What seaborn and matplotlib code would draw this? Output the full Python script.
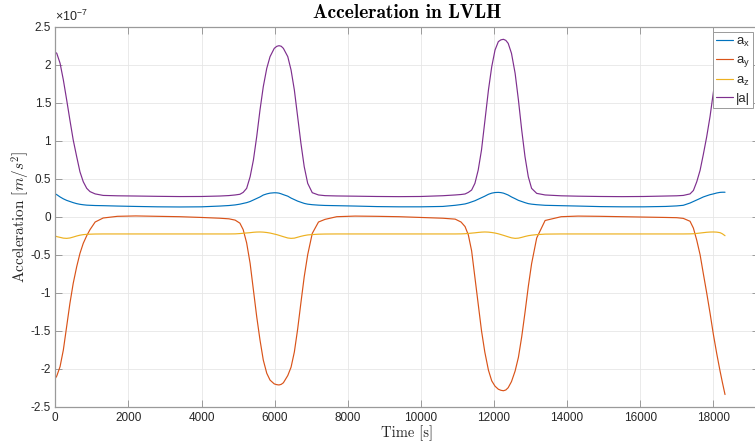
import matplotlib
matplotlib.use("Agg")
import matplotlib.pyplot as plt
import pandas as pd
import seaborn as sns
from matplotlib.ticker import FuncFormatter, FixedLocator

# ---- data (accelerations in units of 1e-7 m/s^2) ----
time_s = [
    0, 40, 130, 220, 310, 400, 490, 585, 675, 765, 860, 950, 1090, 1310, 1700, 2200, 2800, 3400, 4000, 4500,
    4750, 4920, 5050, 5140, 5235, 5330, 5420, 5510, 5600, 5690, 5785, 5875, 5990, 6060, 6120, 6180, 6240, 6360,
    6450, 6540, 6630, 6720, 6810, 6905, 7030, 7200, 7380,
    7700, 8200, 8800, 9400, 10000, 10600,
    10940, 11100, 11210, 11300, 11390, 11480, 11570, 11660, 11750, 11850, 11940, 12030, 12120, 12190, 12260,
    12325, 12390, 12480, 12580, 12670, 12760, 12850, 12940, 13030, 13170, 13400,
    13840, 14300, 14900, 15500, 16100, 16700,
    17000, 17180, 17365, 17457, 17549, 17640, 17729, 17820, 17913, 18004, 18095, 18186, 18250, 18322,
]

a_x = [
    0.300, 0.290, 0.260, 0.235, 0.215, 0.200, 0.185, 0.172, 0.163, 0.157, 0.152, 0.150, 0.147, 0.145, 0.140,
    0.135, 0.130, 0.128, 0.130, 0.140,
    0.147, 0.155, 0.165, 0.175, 0.185, 0.200, 0.220, 0.240, 0.260, 0.285, 0.300, 0.310, 0.315, 0.314, 0.310,
    0.301, 0.290, 0.270, 0.245, 0.225, 0.205, 0.190, 0.175, 0.165, 0.158, 0.152, 0.148,
    0.145, 0.140, 0.133, 0.130, 0.130, 0.135,
    0.150, 0.160, 0.168, 0.180, 0.195, 0.210, 0.230, 0.250, 0.270, 0.295, 0.310, 0.318, 0.320, 0.317, 0.310,
    0.298, 0.285, 0.260, 0.237, 0.215, 0.200, 0.185, 0.172, 0.165, 0.158, 0.150,
    0.145, 0.140, 0.133, 0.130, 0.130, 0.135,
    0.142, 0.150, 0.180, 0.200, 0.220, 0.240, 0.260, 0.275, 0.290, 0.300, 0.312, 0.320, 0.322, 0.322,
]

a_y = [
    -2.127, -2.096, -1.973, -1.754, -1.447, -1.140, -0.877, -0.658, -0.482, -0.350, -0.250, -0.170, -0.070,
    -0.017, 0.005, 0.010, 0.005, 0.000, -0.010, -0.020,
    -0.028, -0.045, -0.085, -0.170, -0.345, -0.614, -0.965, -1.315, -1.622, -1.886, -2.060, -2.150, -2.200,
    -2.210, -2.214, -2.206, -2.185, -2.090, -1.980, -1.780, -1.480, -1.130, -0.790, -0.500, -0.220, -0.070,
    -0.035,
    0.000, 0.008, 0.005, 0.000, -0.010, -0.020,
    -0.032, -0.070, -0.130, -0.240, -0.450, -0.800, -1.150, -1.500, -1.780, -2.020, -2.160, -2.230, -2.270,
    -2.284, -2.290, -2.280, -2.250, -2.170, -2.030, -1.850, -1.580, -1.260, -0.920, -0.620, -0.280, -0.050,
    0.000, 0.008, 0.005, 0.000, -0.005, -0.010,
    -0.013, -0.022, -0.060, -0.150, -0.310, -0.500, -0.750, -1.000, -1.270, -1.550, -1.800, -2.030, -2.180,
    -2.340,
]

a_z = [
    -0.254, -0.262, -0.272, -0.282, -0.285, -0.280, -0.268, -0.254, -0.243, -0.236, -0.232, -0.230, -0.228,
    -0.227, -0.227, -0.227, -0.227, -0.227, -0.227, -0.227,
    -0.227, -0.226, -0.222, -0.218, -0.214, -0.210, -0.205, -0.202, -0.201, -0.203, -0.208, -0.215, -0.228,
    -0.236, -0.245, -0.254, -0.263, -0.280, -0.285, -0.282, -0.270, -0.258, -0.248, -0.240, -0.235, -0.230,
    -0.228,
    -0.227, -0.227, -0.227, -0.227, -0.227, -0.227,
    -0.227, -0.226, -0.224, -0.220, -0.216, -0.212, -0.207, -0.203, -0.201, -0.203, -0.208, -0.215, -0.225,
    -0.235, -0.245, -0.255, -0.265, -0.278, -0.285, -0.282, -0.272, -0.260, -0.250, -0.243, -0.236, -0.229,
    -0.227, -0.227, -0.227, -0.227, -0.227, -0.227,
    -0.227, -0.227, -0.226, -0.224, -0.220, -0.215, -0.210, -0.205, -0.202, -0.201, -0.203, -0.210, -0.225,
    -0.250,
]

a_mag = [
    2.163, 2.150, 2.020, 1.800, 1.540, 1.270, 1.010, 0.790, 0.590, 0.460, 0.373, 0.330, 0.300, 0.280, 0.275,
    0.272, 0.268, 0.265, 0.266, 0.272,
    0.278, 0.286, 0.295, 0.320, 0.373, 0.526, 0.746, 1.053, 1.404, 1.711, 1.952, 2.106, 2.215, 2.242, 2.250,
    2.243, 2.215, 2.106, 1.930, 1.667, 1.316, 0.965, 0.658, 0.439, 0.316, 0.286, 0.277,
    0.273, 0.270, 0.266, 0.264, 0.266, 0.276,
    0.286, 0.292, 0.299, 0.320, 0.351, 0.439, 0.614, 0.878, 1.250, 1.667, 1.974, 2.193, 2.303, 2.327, 2.334,
    2.320, 2.281, 2.150, 1.886, 1.536, 1.140, 0.790, 0.526, 0.373, 0.307, 0.286,
    0.275, 0.270, 0.266, 0.264, 0.266, 0.272,
    0.275, 0.280, 0.300, 0.345, 0.460, 0.610, 0.820, 1.050, 1.320, 1.640, 1.980, 2.200, 2.300, 2.370,
]

components = ["ax", "ay", "az", "amag"]
legend_labels = [r"a$_\mathregular{x}$", r"a$_\mathregular{y}$", r"a$_\mathregular{z}$", "|a|"]
line_colors = ["#0072BD", "#D95319", "#EDB120", "#7E2F8E"]
x_ticks = [0, 2000, 4000, 6000, 8000, 10000, 12000, 14000, 16000, 18000]
y_ticks = [-2.5, -2.0, -1.5, -1.0, -0.5, 0.0, 0.5, 1.0, 1.5, 2.0, 2.5]
unit = 1e-7

# ---- long-form table for seaborn ----
frames = []
for name, vals in zip(components, [a_x, a_y, a_z, a_mag]):
    frames.append(pd.DataFrame({"time": time_s,
                                "acc": [v * unit for v in vals],
                                "component": name}))
df = pd.concat(frames, ignore_index=True)

# ---- style ----
sns.set_theme(style="white")
plt.rcParams.update({
    "font.family": ["Liberation Sans", "DejaVu Sans"],
    "mathtext.fontset": "custom",
    "mathtext.rm": "Liberation Sans",
    "mathtext.it": "Liberation Sans:italic",
    "axes.unicode_minus": False,
})

axis_grey = "#9a9a9a"
text_dark = "#262626"

# axes box runs a few pixels past the right edge of the canvas
W, H = 755, 443
left_px, right_px, top_px, bottom_px = 55.3, 758.5, 26.7, 406.7
fig = plt.figure(figsize=(W / 100, H / 100), dpi=100)
ax = fig.add_axes([left_px / W, 1 - bottom_px / H, (right_px - left_px) / W, (bottom_px - top_px) / H])

sns.lineplot(data=df, x="time", y="acc", hue="component", hue_order=components,
             palette=dict(zip(components, line_colors)), estimator=None, sort=False,
             linewidth=0.85, legend=False, ax=ax)

ax.set_xlim(0, 1.05 * time_s[-1])
ax.set_ylim(-2.5 * unit, 2.5 * unit)
ax.xaxis.set_major_locator(FixedLocator(x_ticks))
ax.yaxis.set_major_locator(FixedLocator([t * unit for t in y_ticks]))
ax.xaxis.set_major_formatter(FuncFormatter(lambda v, _: f"{v:g}"))
ax.yaxis.set_major_formatter(FuncFormatter(lambda v, _: f"{round(v / unit, 2):g}"))

ax.grid(True, color="#e6e6e6", linewidth=0.6)
ax.set_axisbelow(True)
for side in ["left", "right", "top", "bottom"]:
    ax.spines[side].set_visible(True)
    ax.spines[side].set_color(axis_grey)
    ax.spines[side].set_linewidth(0.9)
ax.tick_params(axis="both", which="major", direction="in", length=5, width=0.7,
               color=axis_grey, labelcolor=text_dark, labelsize=8.5, top=True, right=True,
               bottom=True, left=True, pad=3)
ax.tick_params(axis="x", pad=4)

# exponent label above the y axis
ax.text(0.0, 1.006, r"$\times$10$^{\mathregular{-7}}$", transform=ax.transAxes,
        ha="left", va="bottom", fontsize=9, color=text_dark)

ax.set_title("Acceleration in LVLH", fontfamily="cmb10", fontsize=14, color="black", pad=6)
ax.set_xlabel("Time [s]", fontfamily="cmr10", fontsize=10.5, color=text_dark, labelpad=1)
ylab = ax.set_ylabel(r"Acceleration $[m/s^2]$", fontfamily="cmr10", fontsize=11,
                     color=text_dark, labelpad=-1)
ylab.set_math_fontfamily("cm")

handles = ax.get_lines()[:4]
leg = ax.legend(handles, legend_labels, loc="upper right",
                bbox_to_anchor=((753.3 - left_px) / (right_px - left_px), (bottom_px - 32.3) / (bottom_px - top_px)),
                borderaxespad=0, fontsize=9.5, frameon=True, fancybox=False, framealpha=1,
                edgecolor=axis_grey, handlelength=1.3, handletextpad=0.2,
                labelspacing=0.38, borderpad=0.25)
leg.get_frame().set_linewidth(0.7)
for t in leg.get_texts():
    t.set_color(text_dark)

fig.savefig("out.png", dpi=100)
